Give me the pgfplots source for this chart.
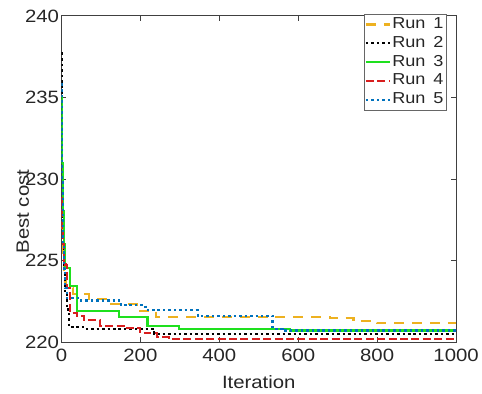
\documentclass[border=0pt]{standalone}
\usepackage{fontspec}
\setmainfont{Liberation Sans}[FakeStretch=1.14]
\usepackage{pgfplots}
\pgfplotsset{compat=1.18}
\definecolor{cyel}{HTML}{EDB120}
\definecolor{cgrn}{HTML}{1EE01E}
\definecolor{cred}{HTML}{D81E1E}
\definecolor{cblu}{HTML}{0072BD}
\begin{document}
\begin{tikzpicture}
\begin{axis}[
  scale only axis, width=398pt, height=329pt,
  xmin=0, xmax=1000, ymin=220, ymax=240,
  xtick={0,200,400,600,800,1000},
  ytick={220,225,230,235,240},
  tick align=inside, tick pos=both,
  major tick length=5pt,
  axis line style={black!75, line width=0.8pt},
  every tick/.style={black!75, line width=0.8pt},
  tick label style={font=\fontsize{18}{20}\selectfont, text=black!85},
  yticklabel style={xshift=1pt},
  xticklabel style={yshift=-4pt},
  /pgf/number format/assume math mode=true,
  /pgf/number format/1000 sep={},
  xlabel={Iteration}, ylabel={Best cost},
  label style={font=\fontsize{18}{20}\selectfont, text=black!85},
  xlabel style={at={(axis description cs:0.5,-0.122)}, anchor=center},
  ylabel style={at={(axis description cs:-0.098,0.40)}, anchor=center, rotate=0},
  legend style={at={(0.975,1.006)}, anchor=north east, draw=black!60,
    inner sep=1pt, row sep=0pt, font=\fontsize{16}{18}\selectfont,
    text=black!85, fill=white,
    nodes={inner sep=1.5pt, text height=12pt, text depth=4pt}},
  legend cell align=left,
  legend image code/.code={\draw[#1] plot coordinates {(0pt,0pt) (24pt,0pt)};},
  clip=true,
]
\addplot[const plot, cyel, line width=2.2pt, dash pattern=on 10pt off 8pt] coordinates {
(0,227) (3,225) (6,224) (10,223.3) (30,222.94) (70,222.63) (120,222.33)
(190,221.92) (240,221.52) (680,221.45) (740,221.3) (800,221.15) (1000,221.15)};
\addlegendentry{Run\enspace 1}
\addplot[const plot, black, line width=2.2pt, dash pattern=on 2.5pt off 3pt] coordinates {
(0,237.7) (1,234) (2,231) (3,228.5) (4,226.5) (6,224.5) (9,223) (13,222)
(20,220.9) (60,220.8) (235,220.5) (1000,220.47)};
\addlegendentry{Run\enspace 2}
\addplot[const plot, cgrn, line width=2.2pt] coordinates {
(0,235) (2,231) (4,228) (6,226) (9,224.56) (22,223.46) (40,221.9)
(145,221.55) (218,221.0) (297,220.81) (580,220.71) (1000,220.71)};
\addlegendentry{Run\enspace 3}
\addplot[const plot, cred, line width=2.2pt, dash pattern=on 8pt off 3.5pt] coordinates {
(0,228.8) (2,227) (4,226) (7,225) (10,224.7) (15,223.3) (22,221.8)
(40,221.6) (58,221.35) (98,221.0) (158,220.85) (200,220.55) (242,220.3)
(272,220.2) (1000,220.2)};
\addlegendentry{Run\enspace 4}
\addplot[const plot, cblu, line width=2.2pt, dash pattern=on 2.5pt off 3pt] coordinates {
(0,235.8) (1,233) (2,230) (3,228) (4,226) (6,224.5) (9,223.3) (14,222.7)
(50,222.55) (150,222.25) (213,221.96) (345,221.62) (535,220.81)
(560,220.71) (1000,220.71)};
\addlegendentry{Run\enspace 5}
\end{axis}
\path[use as bounding box] (current axis.south west) ++(-62pt,-52pt) rectangle ++(482pt,397pt);
\end{tikzpicture}
\end{document}
